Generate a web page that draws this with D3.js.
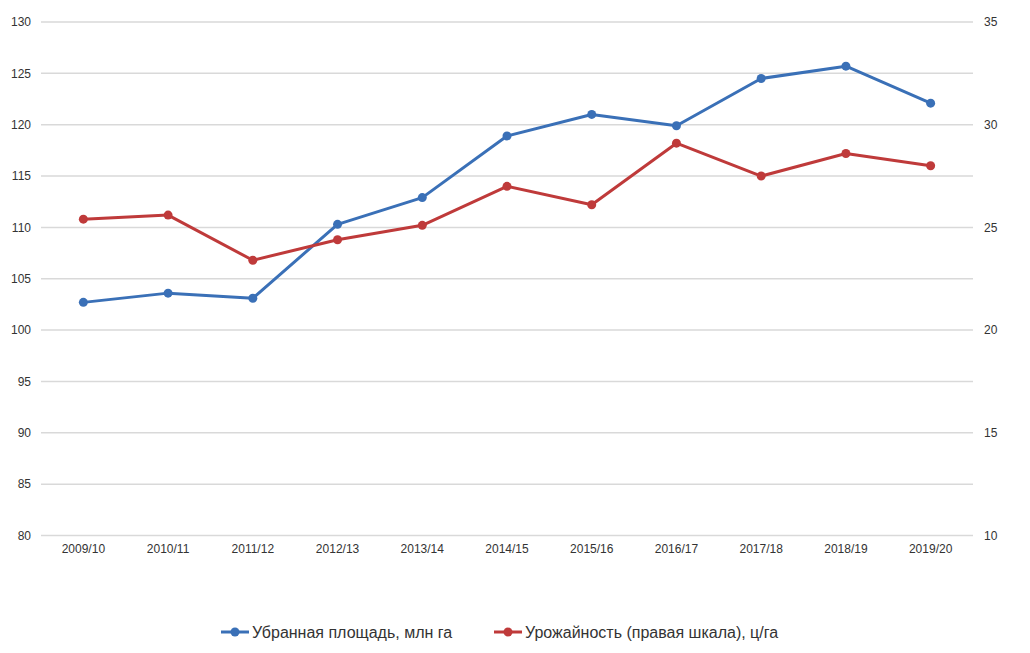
<!DOCTYPE html>
<html>
	<head>
		<meta http-equiv="Content-Type" content="text/html;charset=utf-8"/>
		<title>Убранная площадь и урожайность</title>
		<script type="text/javascript" src="https://cdn.jsdelivr.net/npm/d3@7"></script>
		<style type="text/css">
			body { margin: 0; background: #fff; }
			text { font-family: Arial, "Liberation Sans", sans-serif; fill: #333; }
			.grid line { stroke: #d9d9d9; stroke-width: 1.5; }
			.axis path, .axis line { display: none; }
			.axis text { font-size: 12px; }
			.legend text { font-size: 16px; }
		</style>
	</head>
	<body>
		<script type="text/javascript">

			//Data
			var seasons = ["2009/10", "2010/11", "2011/12", "2012/13", "2013/14", "2014/15",
				"2015/16", "2016/17", "2017/18", "2018/19", "2019/20"];
			var area = [102.7, 103.6, 103.1, 110.3, 112.9, 118.9, 121.0, 119.9, 124.5, 125.7, 122.1];
			var yieldVals = [25.4, 25.6, 23.4, 24.4, 25.1, 27.0, 26.1, 29.1, 27.5, 28.6, 28.0];
			var leftTicks = [80, 85, 90, 95, 100, 105, 110, 115, 120, 125, 130];
			var rightTicks = [10, 15, 20, 25, 30, 35];
			var seriesNames = ["Убранная площадь, млн га", "Урожайность (правая шкала), ц/га"];

			//plot box (note: 'top' is reserved on window, so use pX/pY names)
			var w = 1030, h = 653;
			var pLeft = 41, pRight = 973, pTop = 22, pBottom = 535.5;
			var blue = "#3a70b7", red = "#bf3a3a";

			var svg = d3.select("body").append("svg")
				.attr("width", w)
				.attr("height", h);

			var x = d3.scaleBand().domain(seasons).range([pLeft, pRight]);
			var yL = d3.scaleLinear().domain([80, 130]).range([pBottom, pTop]);
			var yR = d3.scaleLinear().domain([10, 35]).range([pBottom, pTop]);

			//gridlines
			svg.append("g").attr("class", "grid")
				.selectAll("line").data(leftTicks).enter().append("line")
				.attr("x1", pLeft).attr("x2", pRight)
				.attr("y1", function(d) { return yL(d); })
				.attr("y2", function(d) { return yL(d); });

			//axes
			svg.append("g").attr("class", "axis")
				.attr("transform", "translate(" + (pLeft - 10) + ",0)")
				.call(d3.axisLeft(yL).tickValues(leftTicks).tickSize(0).tickPadding(0));

			svg.append("g").attr("class", "axis")
				.attr("transform", "translate(" + (pRight + 11) + ",0)")
				.call(d3.axisRight(yR).tickValues(rightTicks).tickSize(0).tickPadding(0));

			svg.append("g").attr("class", "axis")
				.attr("transform", "translate(0," + (pBottom + 9) + ")")
				.call(d3.axisBottom(x).tickSize(0).tickPadding(0));

			function cx(d, i) { return x(seasons[i]) + x.bandwidth() / 2; }

			function drawSeries(vals, scale, color) {
				var line = d3.line()
					.x(function(d, i) { return cx(d, i); })
					.y(function(d) { return scale(d); });
				svg.append("path")
					.datum(vals)
					.attr("d", line)
					.attr("fill", "none")
					.attr("stroke", color)
					.attr("stroke-width", 3)
					.attr("stroke-linejoin", "round");
				svg.append("g").selectAll("circle").data(vals).enter().append("circle")
					.attr("cx", cx)
					.attr("cy", function(d) { return scale(d); })
					.attr("r", 4.5)
					.attr("fill", color);
			}

			drawSeries(area, yL, blue);
			drawSeries(yieldVals, yR, red);

			//legend
			var legendItems = [
				{ name: seriesNames[0], color: blue, x: 221 },
				{ name: seriesNames[1], color: red, x: 494 }
			];
			var lg = svg.append("g").attr("class", "legend")
				.selectAll("g").data(legendItems).enter().append("g")
				.attr("transform", function(d) { return "translate(" + d.x + ",632)"; });
			lg.append("line")
				.attr("x1", 0).attr("x2", 28)
				.attr("stroke", function(d) { return d.color; })
				.attr("stroke-width", 3);
			lg.append("circle")
				.attr("cx", 14).attr("r", 4.5)
				.attr("fill", function(d) { return d.color; });
			lg.append("text")
				.attr("x", 31).attr("dy", "0.35em")
				.text(function(d) { return d.name; });

		</script>
	</body>
</html>
